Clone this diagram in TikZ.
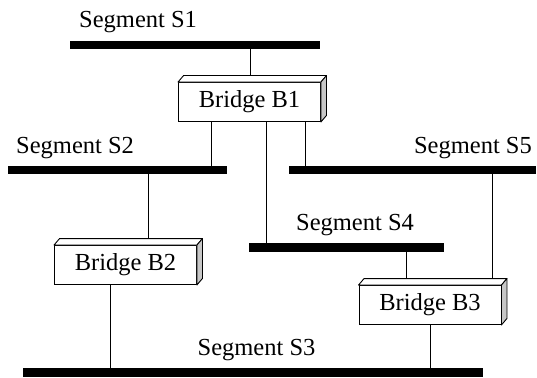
\documentclass[tikz,border=0pt]{standalone}
\usepackage{fontspec}
\setmainfont{Liberation Serif}
\begin{document}
\begin{tikzpicture}[x=1pt,y=-1pt,
  bar/.style={fill=black, draw=none, minimum height=8.5pt, inner sep=0pt, outer sep=0pt},
  bridge/.style={draw, fill=white, line width=0.9pt, minimum width=142pt, minimum height=39pt, inner sep=0pt, font=\fontsize{24.5}{29}\selectfont},
  seglabel/.style={inner sep=0pt, font=\fontsize{24.5}{29}\selectfont},
  wire/.style={line width=0.9pt},
  face/.style={draw, line width=0.9pt, line join=round}]
\useasboundingbox (0,0) rectangle (537,377);
% segments
\node[bar, minimum width=250pt] (s1) at (195,45) {};
\node[bar, minimum width=219pt] (s2) at (117.5,170) {};
\node[bar, minimum width=247pt] (s5) at (412.5,170) {};
\node[bar, minimum width=195pt] (s4) at (346.5,247.5) {};
\node[bar, minimum width=460pt] (s3) at (253,372.5) {};
% labels
\node[seglabel, anchor=base west] (l1) at (79,28) {Segment S1};
\node[seglabel, anchor=base west] (l2) at (16,153) {Segment S2};
\node[seglabel, anchor=base east] (l5) at (532,153) {Segment S5};
\node[seglabel, anchor=base] (l4) at (355,230) {Segment S4};
\node[seglabel, anchor=base] (l3) at (256.5,355) {Segment S3};
% bridges (positions)
\coordinate (c1) at (249.5,102);
\coordinate (c2) at (125.5,265);
\coordinate (c3) at (430,305);
% wires
\draw[wire] (250,0 |- s1.south) -- (250,0 |- c1);
\draw[wire] (211,0 |- c1) -- (211,0 |- s2.north);
\draw[wire] (266,0 |- c1) -- (266,0 |- s4.north);
\draw[wire] (305,0 |- c1) -- (305,0 |- s5.north);
\draw[wire] (148,0 |- s2.south) -- (148,0 |- c2);
\draw[wire] (492,0 |- s5.south) -- (492,0 |- c3);
\draw[wire] (406,0 |- s4.south) -- (406,0 |- c3);
\draw[wire] (110,0 |- c2) -- (110,0 |- s3.north);
\draw[wire] (430,0 |- c3) -- (430,0 |- s3.north);
% bridges
\foreach \n/\t in {1/Bridge B1,2/Bridge B2,3/Bridge B3}{
  \node[bridge] (b\n) at (c\n) {\t};
  \filldraw[face, fill=white] (b\n.north west) -- ([xshift=5.5pt,yshift=6.5pt]b\n.north west)
     -- ([xshift=5.5pt,yshift=6.5pt]b\n.north east) -- (b\n.north east) -- cycle;
  \filldraw[face, fill=black!22] (b\n.north east) -- ([xshift=5.5pt,yshift=6.5pt]b\n.north east)
     -- ([xshift=5.5pt,yshift=6.5pt]b\n.south east) -- (b\n.south east) -- cycle;
}
\end{tikzpicture}
\end{document}
